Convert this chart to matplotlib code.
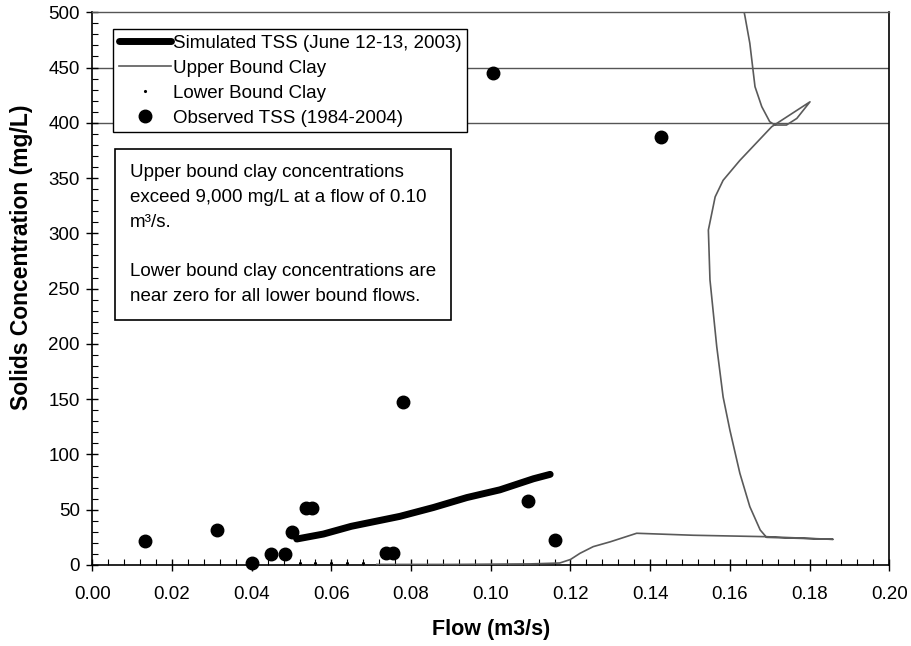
import matplotlib
matplotlib.use("Agg")
import matplotlib.pyplot as plt
from matplotlib.ticker import MultipleLocator, FixedLocator

plt.rcParams['font.family'] = ['Liberation Sans', 'DejaVu Sans']

# Observed TSS (1984-2004)
obs_flow = [0.0133, 0.0314, 0.0401, 0.0448, 0.0484, 0.0502, 0.0536, 0.0551,
            0.0736, 0.0754, 0.0779, 0.1006, 0.1093, 0.1160, 0.1427]
obs_tss = [22, 32, 1.5, 10, 10, 30, 52, 52, 11, 11, 147.5, 445, 58, 22.6, 387.5]

# Simulated TSS (June 12-13, 2003)
sim_flow = [0.0513, 0.0580, 0.0650, 0.0772, 0.0856, 0.0940, 0.1023, 0.1107, 0.1149]
sim_tss = [23.5, 28, 35, 44, 52, 61, 68, 78, 82]

# Upper bound clay
ub_flow = [0.0714, 0.0900, 0.1100, 0.1173, 0.1200, 0.1224, 0.1257, 0.1300, 0.1366,
           0.1508, 0.1692, 0.1859, 0.1692, 0.1676, 0.1650, 0.1625, 0.1600, 0.1583,
           0.1567, 0.1550, 0.1546, 0.1563, 0.1583, 0.1625, 0.1705, 0.1801, 0.1768,
           0.1742, 0.1713, 0.1700, 0.1680, 0.1663, 0.1650, 0.1638, 0.1625]
ub_tss = [0.5, 0.5, 1.0, 1.8, 5, 10.6, 16.6, 21, 28.7,
          26.9, 25.6, 23.2, 25.0, 31.7, 52.8, 83, 122, 152,
          197.5, 258, 303, 333, 348, 366, 396.5, 419, 404,
          398, 398, 401, 414.6, 432.7, 472, 496, 520]

# Lower bound clay
lb_flow = [0.0520, 0.0560, 0.0600, 0.0640, 0.0680]
lb_tss = [1.5, 1.5, 1.5, 1.5, 1.5]

grid_levels = [400, 450]
x_ticks = [0.00, 0.02, 0.04, 0.06, 0.08, 0.10, 0.12, 0.14, 0.16, 0.18, 0.20]
y_ticks = [0, 50, 100, 150, 200, 250, 300, 350, 400, 450, 500]

fig = plt.figure(figsize=(9.12, 6.46), dpi=100)
ax = fig.add_axes([0.1012, 0.1254, 0.8739, 0.8556])

for g in grid_levels:
    ax.axhline(g, color='#555555', lw=1.0, zorder=1)

ax.plot(ub_flow, ub_tss, color='#5a5a5a', lw=1.2, zorder=3, label='Upper Bound Clay')
ax.plot(lb_flow, lb_tss, linestyle='none', marker='.', markersize=2.5, color='black',
        zorder=3, label='Lower Bound Clay')
ax.plot(sim_flow, sim_tss, color='black', lw=5, solid_capstyle='round', zorder=4,
        label='Simulated TSS (June 12-13, 2003)')
ax.plot(obs_flow, obs_tss, linestyle='none', marker='o', markersize=9, color='black',
        zorder=5, label='Observed TSS (1984-2004)', clip_on=False)

ax.set_xlim(0, 0.20)
ax.set_ylim(0, 500)
ax.xaxis.set_major_locator(FixedLocator(x_ticks))
ax.yaxis.set_major_locator(FixedLocator(y_ticks))
ax.xaxis.set_minor_locator(MultipleLocator(0.004))
ax.yaxis.set_minor_locator(MultipleLocator(10))
ax.set_xticklabels(['%.2f' % v for v in x_ticks])
ax.set_yticklabels(['%d' % v for v in y_ticks])
ax.tick_params(axis='both', which='major', direction='inout', length=8, width=1,
               labelsize=13.5)
ax.tick_params(axis='x', which='major', pad=11)
ax.tick_params(axis='y', which='major', pad=5)
ax.tick_params(axis='both', which='minor', direction='in', length=4, width=0.8)

for s in ['left', 'bottom', 'right']:
    ax.spines[s].set_color('black')
    ax.spines[s].set_linewidth(1.2)
ax.spines['top'].set_color('#555555')
ax.spines['top'].set_linewidth(1.0)

ax.set_xlabel('Flow (m3/s)', fontsize=15.5, fontweight='bold')
ax.xaxis.set_label_coords(0.5, -0.097)
ax.set_ylabel('Solids Concentration (mg/L)', fontsize=16.5, fontweight='bold')
ax.yaxis.set_label_coords(-0.075, 0.556)

handles, labels = ax.get_legend_handles_labels()
order = [2, 0, 1, 3]
leg = ax.legend([handles[i] for i in order], [labels[i] for i in order],
                loc='upper left', bbox_to_anchor=(0.026, 0.970), fontsize=13.5,
                frameon=True, fancybox=False, edgecolor='black', framealpha=1,
                borderpad=0.3, labelspacing=0.42, handlelength=2.8, handletextpad=0.1,
                borderaxespad=0)
leg.get_frame().set_linewidth(1.0)
leg.set_zorder(10)

note = ("Upper bound clay concentrations\n"
        "exceed 9,000 mg/L at a flow of 0.10\n"
        "m\u00b3/s.\n\n"
        "Lower bound clay concentrations are\n"
        "near zero for all lower bound flows.")
ax.text(0.0473, 0.7255, note, transform=ax.transAxes, fontsize=13.5, va='top', ha='left',
        linespacing=1.6, zorder=10,
        bbox=dict(boxstyle='square,pad=0.8', facecolor='white', edgecolor='black', lw=1.2))

fig.savefig('out.png', dpi=100)
